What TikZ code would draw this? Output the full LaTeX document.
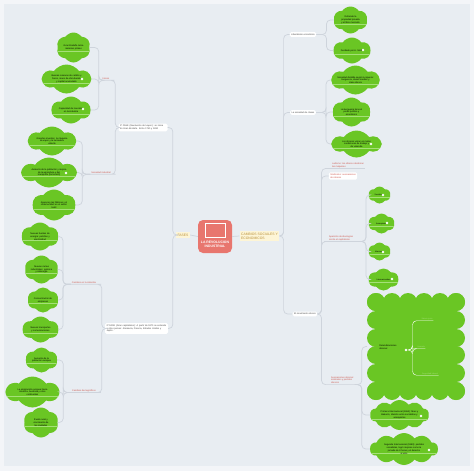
\documentclass[tikz,border=0pt]{standalone}
\usepackage{fontspec}
\setmainfont{Liberation Sans}
\usetikzlibrary{shapes.symbols,calc}
\definecolor{fondo}{RGB}{232,237,242}
\definecolor{borde}{RGB}{243,245,248}
\definecolor{verde}{RGB}{106,198,36}
\definecolor{verdeclaro}{RGB}{165,224,120}
\definecolor{rojo}{RGB}{232,118,110}
\definecolor{crema}{RGB}{253,245,214}
\definecolor{oro}{RGB}{185,145,60}
\definecolor{linea}{RGB}{206,212,220}
\definecolor{etiqueta}{RGB}{205,85,75}
\definecolor{gris}{RGB}{70,70,70}
\begin{document}
\begin{tikzpicture}[x=1pt,y=-1pt]
	\tikzset{nube/.style = {cloud, cloud ignores aspect, cloud puffs=6, cloud puff arc=110, fill=verde, inner sep=0pt, align=center, font=\fontsize{2.3}{2.8}\selectfont,
		path picture={\draw[verdeclaro,line width=0.5pt] ($(path picture bounding box.south west)!0.36!(path picture bounding box.north west)$) -- ($(path picture bounding box.south east)!0.36!(path picture bounding box.north east)$);}}}
	\tikzset{caja/.style = {fill=white, rounded corners=1.5pt, inner sep=1.5pt, align=left, text=gris, font=\fontsize{2.3}{2.8}\selectfont}}
	\tikzset{etiq/.style = {inner sep=0.8pt, align=left, text=etiqueta, font=\fontsize{2.3}{2.8}\selectfont}}
	\tikzset{fase/.style = {fill=crema, inner sep=1.5pt, align=left, text=oro, font=\fontsize{3.4}{4}\selectfont}}
	\tikzset{con/.style = {draw=linea, line width=0.7pt, rounded corners=4pt}}
	\tikzset{punto/.style = {circle, fill=white, inner sep=0pt, minimum size=2.6pt}}
	\tikzset{hoja/.style = {inner sep=0.6pt, text=verdeclaro, font=\fontsize{2}{2.4}\selectfont}}

	\fill[borde] (0,0) rectangle (474,471);
	\fill[fondo] (4,4) rectangle (470,466);
	\useasboundingbox (0,0) rectangle (474,471);

	% centro
	\node[fill=rojo, rounded corners=5pt, minimum width=34pt, minimum height=33pt] (lri) at (215,236.5) {};
	\draw[white, line width=0.3pt] (205,223) rectangle (225,237);
	\node[text=white, align=center, font=\bfseries\fontsize{3.4}{4}\selectfont] (tlri) at (215,244.5) {LA REVOLUCION\\INDUSTRIAL};
	\node[fase] (fases) at (183,235) {FASES};
	\node[fase] (cambios) at (259.5,236) {CAMBIOS SOCIALES Y\\ECONOMICOS};

	% fases
	\node[caja, text width=46pt] (f1) at (143,127.5) {1ª FASE (Revolución del vapor): se inicia en Gran Bretaña. Entre 1750 y 1830};
	\node[caja, text width=60pt] (f2) at (136.5,328.5) {2ª FASE (Gran capitalismo): A partir de 1870 se extiende a otros países: Alemania, Francia, Estados Unidos y Japón.};
	\node[etiq] (ini) at (106,78.5) {Inicios};
	\node[etiq] (soc) at (101,172.5) {Sociedad industrial};
	\node[etiq] (avan) at (84,282.5) {Cambios en la industria};
	\node[etiq] (demo) at (84,390.5) {Cambios demográficos};

	\node[nube, minimum width=34pt, minimum height=30pt] (g1) at (73.5,47.5) {Gran Bretaña tenía\\materias primas};
	\node[nube, minimum width=48pt, minimum height=29pt] (g2) at (66.5,79) {Buenas reservas de carbón y\\hierro, mano de obra barata\\y capital acumulado};
	\node[nube, minimum width=39pt, minimum height=27pt] (g3) at (71,110) {Capacidad de inversión\\en la industria};
	\node[nube, minimum width=47pt, minimum height=29pt] (g4) at (52,141) {Grandes inventos: la máquina\\de vapor y la lanzadera\\volante};
	\node[nube, minimum width=53pt, minimum height=30pt] (g5) at (49,172.5) {Aumento de la población y mejora\\de la agricultura y del\\transporte (ferrocarril)};
	\node[nube, minimum width=43pt, minimum height=31pt] (g6) at (54,205) {Aparecen las fábricas y el\\sistema fabril en el sector\\textil};
	\node[nube, minimum width=37pt, minimum height=28pt] (g7) at (40,236.5) {Nuevas fuentes de\\energía: petróleo y\\electricidad};
	\node[nube, minimum width=34pt, minimum height=28pt] (g8) at (41.5,269.5) {Nuevas ramas\\industriales: química\\y siderurgia};
	\node[nube, minimum width=31pt, minimum height=25pt] (g9) at (43,300) {Concentración de\\empresas};
	\node[nube, minimum width=36pt, minimum height=26pt] (g10) at (40.5,329.5) {Nuevos transportes\\y comunicaciones};
	\node[nube, minimum width=32pt, minimum height=25pt] (g11) at (41.5,360) {Aumento de la\\población europea};
	\node[nube, minimum width=52pt, minimum height=31pt] (g12) at (32.5,392) {La emigración europea hacia\\América, Australia y otros\\continentes};
	\node[nube, minimum width=35pt, minimum height=30pt] (g13) at (41,422.5) {Éxodo rural y\\crecimiento de\\las ciudades};
	\node[punto] at (82,79) {};
	\node[punto] at (83,109) {};
	\node[punto] at (66,173) {};

	% cambios
	\node[caja] (lib) at (303,34.5) {Liberalismo económico};
	\node[caja] (clases) at (303,112.5) {La sociedad de clases};
	\node[caja] (mov) at (305,314) {El movimiento obrero};
	\node[nube, minimum width=34pt, minimum height=27pt] (r1) at (350.5,20) {Defiende la\\propiedad privada\\y el libre mercado};
	\node[nube, minimum width=37pt, minimum height=26pt] (r2) at (352,50.5) {Fundado por A. Smith};
	\node[nube, minimum width=46pt, minimum height=29pt] (r3) at (355.5,80) {Sociedad dividida según la riqueza:\\burguesía, clases medias y\\clase obrera};
	\node[nube, minimum width=38pt, minimum height=29pt] (r4) at (351.5,112) {La burguesía tiene el\\poder político y\\económico};
	\node[nube, minimum width=48pt, minimum height=27pt] (r5) at (356.5,144) {Los obreros vivían en malas\\condiciones de trabajo y\\de vivienda};
	\node[punto] at (363,50) {};
	\node[punto] at (371,144) {};

	\node[etiq] (lud) at (348,165) {Ludismo: los obreros destruían\\las máquinas};
	\node[caja, text=etiqueta] (sind) at (343,176) {Sindicatos: asociaciones\\de obreros};
	\node[etiq] (ideo) at (341,238) {Aparición de ideologías\\contra el capitalismo};
	\node[etiq] (asoc) at (342.5,380) {Asociaciones obreras:\\sindicatos y partidos\\obreros};
	\node[nube, minimum width=22pt, minimum height=17pt, font=\fontsize{2}{2.4}\selectfont] (s1) at (379.5,195) {Socialismo};
	\node[nube, minimum width=26pt, minimum height=20pt, font=\fontsize{2}{2.4}\selectfont] (s2) at (381.5,223.5) {Anarquismo};
	\node[nube, minimum width=22pt, minimum height=18pt, font=\fontsize{2}{2.4}\selectfont] (s3) at (379.5,251.5) {Marxismo};
	\node[nube, minimum width=30pt, minimum height=22pt, font=\fontsize{2}{2.4}\selectfont] (s4) at (383.5,279.5) {Internacionales};
	\node[punto] at (383,195) {};
	\node[punto] at (387,223) {};
	\node[punto] at (383,252) {};
	\node[punto] at (392,279) {};

	\node[inner sep=0pt, minimum width=98pt, minimum height=107pt] (rei) at (416,346.5) {};
	\fill[verde] (376,302) rectangle (456,391);
	\foreach \x in {376,392,408,424,440,456} {\fill[verde] (\x,302) circle (9); \fill[verde] (\x,391) circle (9);}
	\foreach \y in {302,320,338,355,373,391} {\fill[verde] (376,\y) circle (9); \fill[verde] (456,\y) circle (9);}
	\node[inner sep=0pt, align=left, font=\fontsize{2.3}{2.8}\selectfont] (trei) at (388,347.5) {Reivindicaciones\\obreras:};
	\node[punto] (pr) at (406,350) {};
	\node[hoja] (h1) at (427,319) {Salario justo};
	\node[hoja] (h2) at (421,347) {Jornada};
	\node[hoja] (h3) at (430,373.5) {Seguridad laboral};
	\node[nube, cloud puffs=10, minimum width=59pt, minimum height=30pt] (e1) at (399.5,415) {Primera Internacional (1864): Marx y\\Bakunin, división entre socialistas y\\anarquistas};
	\node[nube, cloud puffs=10, minimum width=68pt, minimum height=32pt] (e2) at (404,449) {Segunda Internacional (1889): partidos\\socialistas, logró mejoras como la\\jornada de 8 horas y el derecho\\al voto};
	\node[punto] at (421,416) {};
	\node[punto] at (429,450) {};

	\draw[con] (lri.west) -- (fases.east);
	\draw[con] (lri.east) -- (cambios.west);
	\draw[con] (fases.west) -- ++(-3,0) |- (f1.east);
	\draw[con] (fases.west) -- ++(-3,0) |- (f2.east);
	\draw[con] (f1.west) -- ++(-3,0) |- (ini.south east) -- (ini.south west);
	\draw[con] (f1.west) -- ++(-3,0) |- (soc.south east) -- (soc.south west);
	\draw[con] (f2.west) -- ++(-3,0) |- (avan.south east) -- (avan.south west);
	\draw[con] (f2.west) -- ++(-3,0) |- (demo.south east) -- (demo.south west);
	\foreach \g in {g1,g2,g3} \draw[con] (ini.south west) -- ++(-3,0) |- (\g.east);
	\foreach \g in {g4,g5,g6} \draw[con] (soc.south west) -- ++(-8,0) |- (\g.east);
	\foreach \g in {g7,g8,g9,g10} \draw[con] (avan.south west) -- ++(-8,0) |- (\g.east);
	\foreach \g in {g11,g12,g13} \draw[con] (demo.south west) -- ++(-8,0) |- (\g.east);

	\foreach \c in {lib,clases,mov} \draw[con] (cambios.east) -- ++(4,0) |- (\c.west);
	\foreach \r in {r1,r2} \draw[con] (lib.east) -- ++(10,0) |- (\r.west);
	\foreach \r in {r3,r4,r5} \draw[con] (clases.east) -- ++(10,0) |- (\r.west);
	\draw[con] (mov.east) -- ++(4,0) |- (lud.south west) -- (lud.south east);
	\draw[con] (mov.east) -- ++(4,0) |- (sind.west);
	\draw[con] (mov.east) -- ++(4,0) |- (ideo.south west) -- (ideo.south east);
	\draw[con] (mov.east) -- ++(4,0) |- (asoc.south west) -- (asoc.south east);
	\foreach \s in {s1,s2,s3,s4} \draw[con] (ideo.south east) -- ++(12,0) |- (\s.west);
	\foreach \s in {rei,e1,e2} \draw[con] (asoc.south east) -- ++(7,0) |- (\s.west);
	\foreach \h in {h1,h2,h3} \draw[white, line width=0.4pt, rounded corners=4pt] (pr.east) -- ++(5,0) |- (\h.south west) -- (\h.south east);
\end{tikzpicture}
\end{document}
